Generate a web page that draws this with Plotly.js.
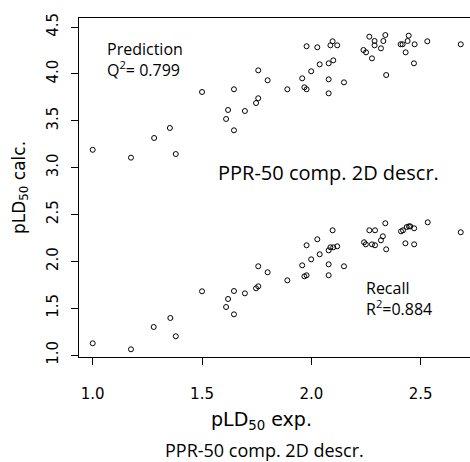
<!DOCTYPE html>
<html>
<head>
<meta charset="utf-8">
<script src="https://cdn.plot.ly/plotly-3.0.1.min.js"></script>
<style>html,body{margin:0;padding:0;background:#fff;}#chart{width:470px;height:462px;}</style>
</head>
<body>
<div id="chart"></div>
<script>
// Prediction (upper cluster)
const xPred = [1.00,1.175,1.281,1.353,1.38,1.50,1.610,1.619,1.646,1.646,1.696,1.747,1.757,1.757,1.800,1.890,1.958,1.968,1.978,1.978,1.999,2.027,2.038,2.079,2.079,2.079,2.087,2.097,2.100,2.118,2.149,2.238,2.250,2.265,2.277,2.289,2.289,2.318,2.329,2.338,2.342,2.408,2.417,2.431,2.440,2.445,2.472,2.469,2.530,2.683];
const yPred = [3.19,3.106,3.316,3.423,3.145,3.807,3.519,3.615,3.398,3.836,3.604,3.689,3.740,4.038,3.932,3.836,3.953,3.857,3.836,4.295,4.028,4.284,4.102,3.793,3.942,4.113,4.305,4.348,4.145,4.305,3.910,4.255,4.230,4.397,4.166,4.351,4.305,4.273,4.351,4.415,3.988,4.316,4.316,4.230,4.351,4.408,4.316,4.113,4.348,4.316];
// Recall (lower cluster)
const xRec = [1.00,1.175,1.279,1.355,1.38,1.50,1.610,1.619,1.646,1.646,1.696,1.747,1.757,1.757,1.800,1.890,1.958,1.968,1.978,1.978,1.999,2.027,2.038,2.079,2.079,2.079,2.087,2.097,2.100,2.118,2.149,2.241,2.249,2.265,2.277,2.291,2.291,2.318,2.327,2.338,2.342,2.410,2.419,2.430,2.436,2.446,2.452,2.470,2.470,2.532,2.683];
const yRec = [1.125,1.061,1.299,1.395,1.20,1.68,1.512,1.598,1.434,1.683,1.658,1.712,1.733,1.947,1.883,1.797,1.957,1.840,1.851,2.171,2.021,2.235,2.075,1.851,1.968,2.117,2.149,2.331,2.149,2.160,1.947,2.203,2.181,2.331,2.181,2.331,2.171,2.224,2.267,2.406,2.128,2.320,2.331,2.192,2.366,2.373,2.373,2.352,2.181,2.416,2.310];

const xTicks = [1.0,1.5,2.0,2.5];
const xTickLabels = ["1.0","1.5","2.0","2.5"];
const yTicks = [1.0,1.5,2.0,2.5,3.0,3.5,4.0,4.5];
const yTickLabels = ["1.0","1.5","2.0","2.5","3.0","3.5","4.0","4.5"];

const subtitle = "PPR-50 comp. 2D descr.";
const predText = "Prediction<br>Q<sup>2</sup>= 0.799";
const recText = "Recall<br>R<sup>2</sup>=0.884";

const marker = {symbol:'circle-open', size:5, color:'#000', line:{color:'#000', width:1}};
const traces = [
  {x:xPred, y:yPred, type:'scatter', mode:'markers', name:'Prediction', marker:marker, hoverinfo:'x+y'},
  {x:xRec, y:yRec, type:'scatter', mode:'markers', name:'Recall', marker:marker, hoverinfo:'x+y'}
];

const annFont = {family:'"Open Sans", sans-serif', size:16, color:'#000'};
const titleFont = {family:'"DejaVu Sans", sans-serif', size:19, color:'#000'};
const layout = {
  width:470, height:462,
  margin:{l:79, r:0, t:18, b:105, pad:0},
  paper_bgcolor:'#fff', plot_bgcolor:'#fff',
  showlegend:false,
  font:{family:'"DejaVu Sans", sans-serif', color:'#000'},
  xaxis:{
    range:[0.9374, 2.7253], showgrid:false, zeroline:false,
    showline:true, linecolor:'#000', linewidth:1, mirror:true,
    ticks:'outside', ticklen:7, tickwidth:1, tickcolor:'#000',
    tickvals:xTicks, ticktext:xTickLabels, ticklabelstandoff:16,
    tickfont:{family:'"DejaVu Sans", sans-serif', size:15, color:'#000'}
  },
  yaxis:{
    range:[0.9787, 4.5966], showgrid:false, zeroline:false,
    showline:true, linecolor:'#000', linewidth:1, mirror:false,
    ticks:'outside', ticklen:7, tickwidth:1, tickcolor:'#000',
    tickvals:yTicks, ticktext:yTickLabels, tickangle:-90, ticklabelstandoff:7,
    tickfont:{family:'"DejaVu Sans", sans-serif', size:15, color:'#000'},
    title:{text:'pLD<sub>50</sub> calc.', font:{family:'"DejaVu Sans", sans-serif', size:17, color:'#000'}, standoff:14}
  },
  annotations:[
    {xref:'x', yref:'y', x:1.054, y:4.159, xanchor:'left', yanchor:'middle', align:'left', text:predText, showarrow:false, font:annFont},
    {xref:'x', yref:'y', x:2.2405, y:1.603, xanchor:'left', yanchor:'middle', align:'left', text:recText, showarrow:false, font:annFont},
    {xref:'x', yref:'y', x:2.076, y:2.95, xanchor:'center', yanchor:'middle', text:subtitle, showarrow:false, font:{family:'"Open Sans", sans-serif', size:20, color:'#000'}},
    {xref:'paper', yref:'paper', x:0.4655, y:-0.186, xanchor:'center', yanchor:'middle', text:'pLD<sub>50</sub> exp.', showarrow:false, font:titleFont},
    {xref:'paper', yref:'paper', x:0.474, y:-0.2743, xanchor:'center', yanchor:'middle', borderpad:0, text:subtitle, showarrow:false, font:{family:'"Open Sans", sans-serif', size:18, color:'#000'}}
  ]
};
Plotly.newPlot('chart', traces, layout, {displayModeBar:false, staticPlot:true});
</script>
</body>
</html>
